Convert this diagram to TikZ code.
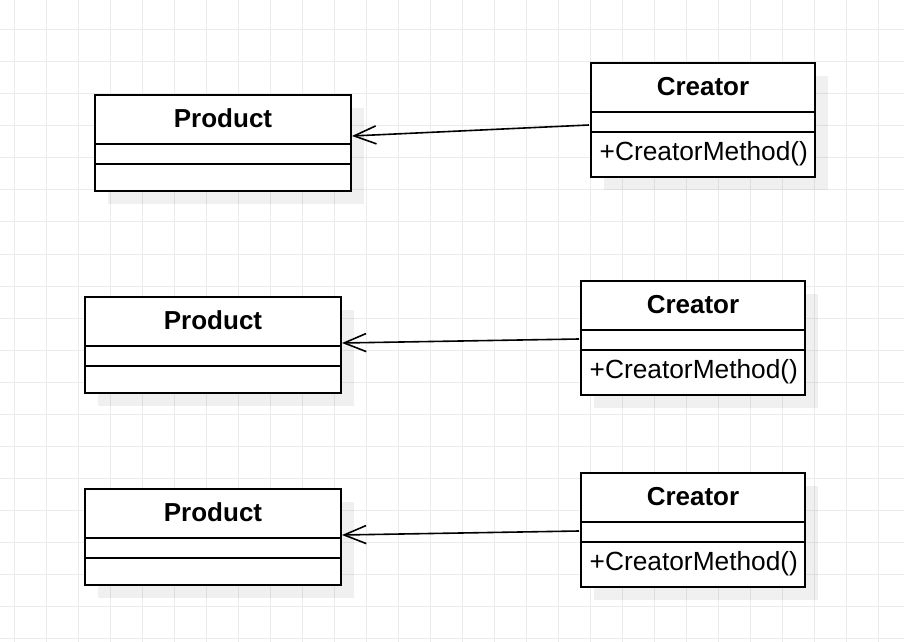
\documentclass[tikz,border=0pt]{standalone}
\usepackage{fontspec}
\setmainfont{Liberation Sans}
\usetikzlibrary{arrows.meta,calc}
\tikzset{
  gridline/.style={draw=black!8, line width=1bp},
  umlbox/.style={draw=black, line width=2bp, fill=white, inner sep=0pt, rectangle},
  boxshadow/.style={fill=black, fill opacity=0.06},
  titletext/.style={font=\fontsize{26bp}{31bp}\selectfont\bfseries, inner sep=0pt, anchor=base},
  methodtext/.style={font=\fontsize{26.3bp}{31bp}\selectfont, inner sep=0pt, anchor=base west},
  divider/.style={draw=black, line width=2bp},
  assoc/.style={draw=black, line width=1.6bp, -{Straight Barb[length=22bp,width=18bp]}}
}
\newcommand\ProductBox[3]{%
  \fill[boxshadow] (#2+14,#3+14) rectangle ++(256,96);
  \node[umlbox, anchor=north west, minimum width=256bp, minimum height=96bp] (#1) at (#2,#3) {};
  \draw[divider] ($(#1.north west)+(0,50)$) -- ($(#1.north east)+(0,50)$);
  \draw[divider] ($(#1.north west)+(0,70)$) -- ($(#1.north east)+(0,70)$);
  \node[titletext] (#1t) at ($(#1.north)+(0,33.5)$) {Product};
}
\newcommand\CreatorBox[3]{%
  \fill[boxshadow] (#2+14,#3+14) rectangle ++(224,114);
  \node[umlbox, anchor=north west, minimum width=224bp, minimum height=114bp] (#1) at (#2,#3) {};
  \draw[divider] ($(#1.north west)+(0,50)$) -- ($(#1.north east)+(0,50)$);
  \draw[divider] ($(#1.north west)+(0,70)$) -- ($(#1.north east)+(0,70)$);
  \node[titletext] (#1t) at ($(#1.north)+(0,33.5)$) {Creator};
  \node[methodtext] (#1m) at ($(#1.north west)+(9.5,98.5)$) {+CreatorMethod()};
}
\begin{document}
\begin{tikzpicture}[x=1bp,y=-1bp]
  \fill[white] (0,0) rectangle (904,642);
  \useasboundingbox (0,0) rectangle (904,642);
  \foreach \gx in {14,46,...,878} \draw[gridline] (\gx,0) -- (\gx,642);
  \foreach \gy in {30,62,...,638} \draw[gridline] (0,\gy) -- (904,\gy);

  \ProductBox{p1}{94}{94}
  \CreatorBox{c1}{590}{62}
  \ProductBox{p2}{84}{296}
  \CreatorBox{c2}{580}{280}
  \ProductBox{p3}{84}{488}
  \CreatorBox{c3}{580}{472}

  \draw[assoc] ($(c1.west)+(-1,5)$) -- ($(p1.east)+(0,-7)$);
  \draw[assoc] ($(c2.west)+(-1,1)$) -- ($(p2.east)+(0,-2)$);
  \draw[assoc] ($(c3.west)+(-1,1)$) -- ($(p3.east)+(0,-2)$);
\end{tikzpicture}
\end{document}
